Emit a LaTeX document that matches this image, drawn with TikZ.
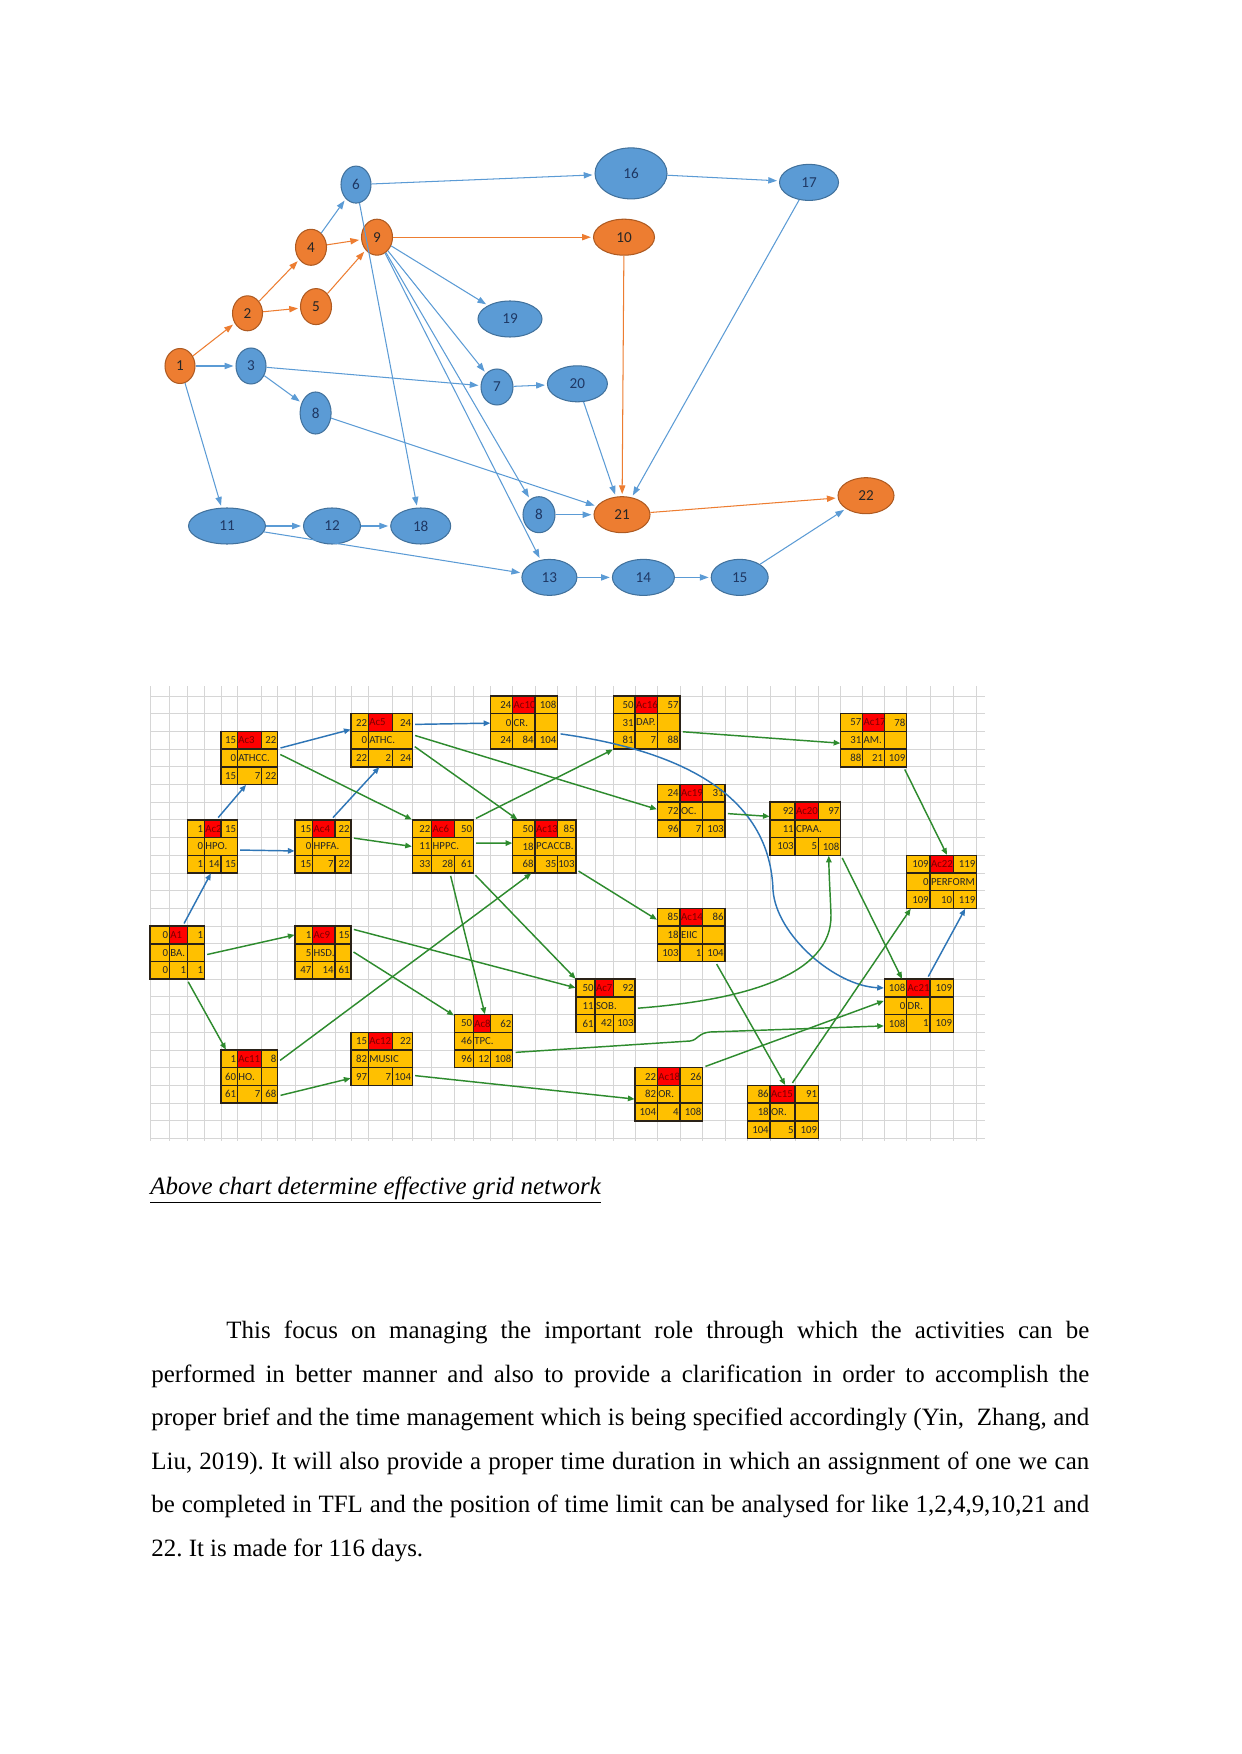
\documentclass[tikz,border=0pt]{standalone}
\usepackage{fontspec}
\setmainfont{Liberation Serif}
\newfontfamily\calfont{Carlito}
\usetikzlibrary{arrows.meta, shapes.geometric, fit}
\frenchspacing

\definecolor{bfill}{HTML}{5B9BD5}
\definecolor{bline}{HTML}{41719C}
\definecolor{ofill}{HTML}{ED7D31}
\definecolor{oline}{HTML}{AE5A21}
\definecolor{btext}{HTML}{1F3864}
\definecolor{cellgold}{HTML}{FFC000}
\definecolor{cellred}{HTML}{FF0000}
\definecolor{acred}{HTML}{7A0000}
\definecolor{cellline}{HTML}{2A2218}
\definecolor{gline}{HTML}{2E8B2E}
\definecolor{bluearr}{HTML}{2E75B6}
\definecolor{gridgray}{HTML}{D6D6D6}

\newcommand{\pxu}{0.016922cm}
% column edges of the sheet grid
\def\collist{150,169.3,187.3,204.3,221,237.3,261.7,277.7,295,312.7,335,351,368.3,392.3,412.3,431.7,454.3,473.3,490.7,512.7,535,557.7,576,595,613.3,635,657.3,680,702.7,725,747.3,770,795,818.3,840.7,862.7,884.3,906.7,930,953.3,976.7}
\edef\colx{{\collist}}

\def\celltop#1#2#3{%
  \node[cellnum] at (\bxb-0.9,\bya+8.85) {#1};
  \node[acname] at (\bxb+0.6,\bya+8.85) {#2};
  \node[cellnum] at (\bxd-0.9,\bya+8.85) {#3};}
\def\cellmid#1#2{%
  \node[cellnum] at (\bxb-0.9,\bya+26.55) {#1};
  \node[celllab] at (\bxb+0.6,\bya+26.55) {#2};}
\def\cellbot#1#2#3{%
  \node[cellnum] at (\bxb-0.9,\bya+44.25) {#1};
  \node[cellnum] at (\bxc-0.9,\bya+44.25) {#2};
  \node[cellnum] at (\bxd-0.9,\bya+44.25) {#3};}

% #1 name, #2 first column, #3 row, #4 top, #5 middle, #6 bottom, #7 s = split middle row
\newcommand{\actbox}[7]{%
  \pgfmathtruncatemacro\cb{#2+1}\pgfmathtruncatemacro\cc{#2+2}\pgfmathtruncatemacro\cd{#2+3}%
  \pgfmathsetmacro\bxa{\colx[#2]}\pgfmathsetmacro\bxb{\colx[\cb]}%
  \pgfmathsetmacro\bxc{\colx[\cc]}\pgfmathsetmacro\bxd{\colx[\cd]}%
  \pgfmathsetmacro\bya{696+17.7*#3}\pgfmathsetmacro\byb{\bya+17.7}%
  \pgfmathsetmacro\byc{\bya+35.4}\pgfmathsetmacro\byd{\bya+53.1}%
  \fill[cellgold] (\bxa,\bya) rectangle (\bxd,\byd);
  \fill[cellred] (\bxb,\bya) rectangle (\bxc,\byb);
  \draw[cellbd] (\bxa,\bya) rectangle (\bxd,\byd)
    (\bxa,\byb) -- (\bxd,\byb) (\bxa,\byc) -- (\bxd,\byc)
    (\bxb,\bya) -- (\bxb,\byd) (\bxc,\bya) -- (\bxc,\byb) (\bxc,\byc) -- (\bxc,\byd);
  \if s#7 \draw[cellbd] (\bxc,\byb) -- (\bxc,\byc);\fi
  \celltop#4\cellmid#5\cellbot#6
  \node[fit={(\bxa,\bya) (\bxd,\byd)}, inner sep=0pt] (#1) {};
}

\begin{document}
\begin{tikzpicture}[x=0.016922cm, y=-0.016922cm,
    bnode/.style={ellipse, draw=bline, line width=0.5pt, fill=bfill, text=btext, inner sep=0pt, font=\calfont\fontsize{7.3}{8}\selectfont},
    onode/.style={bnode, draw=oline, fill=ofill, text=black!85},
    barr/.style={-{Triangle[length=4.2pt,width=3pt]}, draw=bfill, line width=0.5pt, shorten >=1pt},
    oarr/.style={barr, draw=ofill},
    gridln/.style={draw=gridgray, line width=0.45pt},
    cellbd/.style={draw=cellline, line width=0.75pt},
    cellnum/.style={anchor=east, inner sep=0pt, text=black!85, font=\calfont\fontsize{5.2}{6}\selectfont},
    acname/.style={cellnum, anchor=west, text=acred},
    celllab/.style={cellnum, anchor=west},
    garr/.style={-{Triangle[length=3.2pt,width=2.6pt]}, draw=gline, line width=0.7pt, shorten <=1.2pt},
    larr/.style={garr, draw=bluearr},
    bodytext/.style={inner sep=0pt, text width=15.87cm, align=justify, font=\fontsize{12}{20.9}\selectfont},
]
\fill[white] (0,0) rectangle (1241,1754);
\useasboundingbox (0,0) rectangle (1241,1754);

% event network
\node[bnode, minimum width=30*\pxu, minimum height=37*\pxu] (n6) at (356,184.6) {6};
\node[bnode, minimum width=72*\pxu, minimum height=51*\pxu] (n16) at (631,173.4) {16};
\node[bnode, minimum width=59*\pxu, minimum height=36*\pxu] (n17) at (809,182.4) {17};
\node[onode, minimum width=31*\pxu, minimum height=36*\pxu] (n4) at (311,247.3) {4};
\node[onode, minimum width=31*\pxu, minimum height=36*\pxu] (n9) at (377,237.2) {9};
\node[onode, minimum width=61*\pxu, minimum height=36*\pxu] (n10) at (624,237.2) {10};
\node[onode, minimum width=30*\pxu, minimum height=35*\pxu] (n2) at (247.5,313.3) {2};
\node[onode, minimum width=31*\pxu, minimum height=36*\pxu] (n5) at (316,306.6) {5};
\node[bnode, minimum width=64*\pxu, minimum height=36*\pxu] (n19) at (510,319) {19};
\node[onode, minimum width=30*\pxu, minimum height=35*\pxu] (n1) at (180,366) {1};
\node[bnode, minimum width=30*\pxu, minimum height=36*\pxu] (n3) at (251,366) {3};
\node[bnode, minimum width=32*\pxu, minimum height=36*\pxu] (n7) at (497,387) {7};
\node[bnode, minimum width=60*\pxu, minimum height=36*\pxu] (n20) at (577.4,383.8) {20};
\node[bnode, minimum width=31*\pxu, minimum height=42*\pxu] (n8a) at (315.6,413) {8};
\node[bnode, minimum width=77*\pxu, minimum height=36*\pxu] (n11) at (227,526) {11};
\node[bnode, minimum width=57*\pxu, minimum height=36*\pxu] (n12) at (332,526) {12};
\node[bnode, minimum width=60*\pxu, minimum height=36*\pxu] (n18) at (420.7,526) {18};
\node[bnode, minimum width=32*\pxu, minimum height=36*\pxu] (n8b) at (539,514.7) {8};
\node[onode, minimum width=56*\pxu, minimum height=36*\pxu] (n21) at (622,514.7) {21};
\node[onode, minimum width=56*\pxu, minimum height=36*\pxu] (n22) at (866,495.7) {22};
\node[bnode, minimum width=55*\pxu, minimum height=36*\pxu] (n13) at (549.4,577.4) {13};
\node[bnode, minimum width=62*\pxu, minimum height=36*\pxu] (n14) at (643.4,577.4) {14};
\node[bnode, minimum width=57*\pxu, minimum height=36*\pxu] (n15) at (739.7,577.4) {15};

\draw[barr] (n1) -- (n3);
\draw[barr] (n1) -- (n11);
\draw[barr] (n3) -- (n7);
\draw[barr] (n3) -- (n8a);
\draw[barr] (n4) -- (n6);
\draw[barr] (n6) -- (n16);
\draw[barr] (n16) -- (n17);
\draw[barr] (n6) -- (n18);
\draw[barr] (n9) -- (n19);
\draw[barr] (n9) -- (n7);
\draw[barr] (n9) -- (n8b);
\draw[barr] (n9) -- (n13);
\draw[barr] (n7) -- (n20);
\draw[barr] (n20) -- (n21);
\draw[barr] (n8a) -- (n21);
\draw[barr] (n8b) -- (n21);
\draw[barr] (n17) -- (n21);
\draw[barr] (n11) -- (n12);
\draw[barr] (n12) -- (n18);
\draw[barr] (n11) -- (n13);
\draw[barr] (n13) -- (n14);
\draw[barr] (n14) -- (n15);
\draw[barr] (n15) -- (n22);
\draw[oarr] (n1) -- (n2);
\draw[oarr] (n2) -- (n4);
\draw[oarr] (n2) -- (n5);
\draw[oarr] (n4) -- (n9);
\draw[oarr] (n5) -- (n9);
\draw[oarr] (n9) -- (n10);
\draw[oarr] (n10) -- (n21);
\draw[oarr] (n21) -- (n22);

% sheet grid
\foreach \gx in \collist {\draw[gridln] (\gx,686) -- (\gx,1141);}
\foreach \gk in {0,...,25} {\draw[gridln] (150,696+17.7*\gk) -- (985,696+17.7*\gk);}

% activity boxes
\actbox{ba}{0}{13}{{0}{A1}{1}}{{0}{BA.}}{{0}{1}{1}}{s}
\actbox{hpo}{2}{7}{{1}{Ac2}{15}}{{0}{HPO.}}{{1}{14}{15}}{m}
\actbox{athcc}{4}{2}{{15}{Ac3}{22}}{{0}{ATHCC.}}{{15}{7}{22}}{m}
\actbox{hpfa}{8}{7}{{15}{Ac4}{22}}{{0}{HPFA.}}{{15}{7}{22}}{m}
\actbox{athc}{11}{1}{{22}{Ac5}{24}}{{0}{ATHC.}}{{22}{2}{24}}{m}
\actbox{hppc}{14}{7}{{22}{Ac6}{50}}{{11}{HPPC.}}{{33}{28}{61}}{m}
\actbox{sob}{22}{16}{{50}{Ac7}{92}}{{11}{SOB.}}{{61}{42}{103}}{m}
\actbox{tpc}{16}{18}{{50}{Ac8}{62}}{{46}{TPC.}}{{96}{12}{108}}{m}
\actbox{hsd}{8}{13}{{1}{Ac9}{15}}{{5}{HSD.}}{{47}{14}{61}}{s}
\actbox{cr}{18}{0}{{24}{Ac10}{108}}{{0}{CR.}}{{24}{84}{104}}{s}
\actbox{ho}{4}{20}{{1}{Ac11}{8}}{{60}{HO.}}{{61}{7}{68}}{s}
\actbox{music}{11}{19}{{15}{Ac12}{22}}{{82}{MUSIC}}{{97}{7}{104}}{m}
\actbox{pcaccb}{19}{7}{{50}{Ac13}{85}}{{18}{PCACCB.}}{{68}{35}{103}}{m}
\actbox{eiic}{26}{12}{{85}{Ac14}{86}}{{18}{EIIC}}{{103}{1}{104}}{s}
\actbox{orlate}{30}{22}{{86}{Ac15}{91}}{{18}{OR.}}{{104}{5}{109}}{s}
\actbox{dap}{24}{0}{{50}{Ac16}{57}}{{31}{DAP.}}{{81}{7}{88}}{s}
\actbox{am}{34}{1}{{57}{Ac17}{78}}{{31}{AM.}}{{88}{21}{109}}{s}
\actbox{orearly}{25}{21}{{22}{Ac18}{26}}{{82}{OR.}}{{104}{4}{108}}{s}
\actbox{oc}{26}{5}{{24}{Ac19}{31}}{{72}{OC.}}{{96}{7}{103}}{s}
\actbox{cpaa}{31}{6}{{92}{Ac20}{97}}{{11}{CPAA.}}{{103}{5}{108}}{m}
\actbox{dr}{36}{16}{{108}{Ac21}{109}}{{0}{DR.}}{{108}{1}{109}}{s}
\actbox{perform}{37}{9}{{109}{Ac22}{119}}{{0}{PERFORM}}{{109}{10}{119}}{m}

% blue links
\draw[larr] (ba.78) -- (hpo.267);
\draw[larr] (hpo.81) -- (athcc.263);
\draw[larr] (hpo.-8) -- (hpfa.189);
\draw[larr] (hpfa.73) -- (athc.265);
\draw[larr] (athcc.18) -- (athc.161);
\draw[larr] (athc.27) -- (cr.181);
\draw[larr] (cr.-18) .. controls (690,752) and (770,800) .. (773,890)
  .. controls (776,935) and (835,986) .. (dr.153);
\draw[larr] (dr.73) -- (perform.-49);

% green links
\draw[garr] (ba.-5) -- (hsd.148);
\draw[garr] (ba.-70) -- (ho.131);
\draw[garr] (ho.27) -- (pcaccb.244);
\draw[garr] (ho.-34) -- (music.212);
\draw[garr] (music.-28) -- (orearly.188);
\draw[garr] (hsd.40) -- (sob.149);
\draw[garr] (hsd.4) -- (tpc.139);
\draw[garr] (athcc.9) -- (hppc.139);
\draw[garr] (hpfa.17) -- (hppc.180);
\draw[garr] (athc.10) -- (oc.177);
\draw[garr] (athc.-9) -- (pcaccb.135);
\draw[garr] (hppc.north east) -- (dap.south west);
\draw[garr] (hppc.6) -- (pcaccb.174);
\draw[garr] (hppc.-75) -- (tpc.87);
\draw[garr] (hppc.south east) -- (sob.north west);
\draw[garr] (pcaccb.-36) -- (eiic.156);
\draw[garr] (dap.-15) -- (am.185);
\draw[garr] (oc.-4) -- (cpaa.161);
\draw[garr] (am.-42) -- (perform.79);
\draw[garr] (cpaa.south east) -- (dr.122);
\draw[garr] (sob.-5) .. controls (745,1000) and (832,975) .. (831,915)
  .. controls (830,890) and (829,875) .. (cpaa.-49);
\draw[garr] (tpc.-21) -- (690,1041) .. controls (698,1040) and (698,1033) .. (710,1032) -- (dr.210);
\draw[garr] (orearly.north east) -- (dr.172);
\draw[garr] (eiic.-48) -- (orlate.85);
\draw[garr] (orlate.73) -- (perform.221);

% text below the chart
\node[anchor=base west, font=\itshape\fontsize{12}{14}\selectfont] (caption) at (143,1194)
  {\underline{Above chart determine effective grid network}};
\node[bodytext, anchor=north west] (para) at (151,1321)
  {\hspace*{1.27cm}This focus on managing the important role through which the activities can be\linebreak
  performed in better manner and also to provide a clarification in order to accomplish the\linebreak
  proper brief and the time management which is being specified accordingly (Yin,~ Zhang, and\linebreak
  Liu, 2019). It will also provide a proper time duration in which an assignment of one we can\linebreak
  be completed in TFL and the position of time limit can be analysed for like 1,2,4,9,10,21 and\linebreak
  22. It is made for 116 days.};
\end{tikzpicture}
\end{document}
